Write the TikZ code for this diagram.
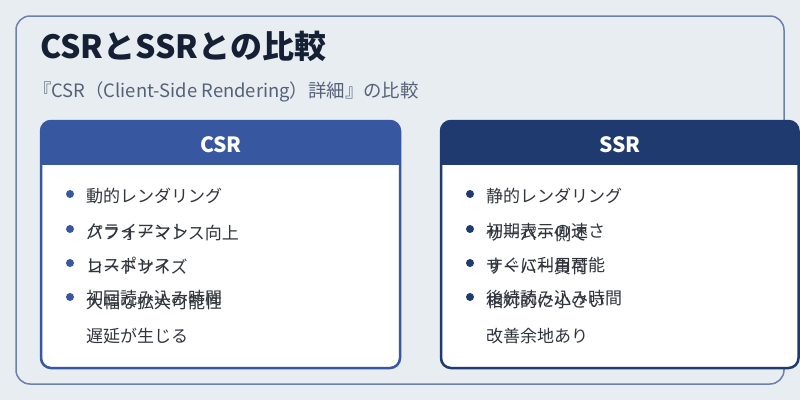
\documentclass[tikz,border=0pt]{standalone}
\usepackage{fontspec}
\setmainfont{Noto Sans CJK JP}
\definecolor{bgc}{RGB}{232,237,242}
\definecolor{framec}{RGB}{108,128,170}
\definecolor{titlec}{RGB}{22,32,52}
\definecolor{subc}{RGB}{85,98,118}
\definecolor{textc}{RGB}{48,52,60}
\definecolor{csrc}{RGB}{55,87,160}
\definecolor{ssrc}{RGB}{31,58,110}
\tikzset{
  itemtext/.style={anchor=base west, inner sep=0pt, text=textc, font=\fontsize{17}{17}\selectfont},
  headtext/.style={anchor=base, inner sep=0pt, text=white, font=\bfseries\fontsize{21}{21}\selectfont},
  bulletdot/.style={circle, inner sep=0pt, minimum size=8pt},
}
\begin{document}
\begin{tikzpicture}[x=1pt,y=-1pt]
\useasboundingbox (0,0) rectangle (800,400);
\fill[bgc] (0,0) rectangle (800,400);
\draw[framec, line width=1.5pt, rounded corners=14pt] (16,16) rectangle (784,384);
\node[anchor=base west, inner sep=0pt, text=titlec, font=\bfseries\fontsize{32}{32}\selectfont] (title) at (40,58) {CSRとSSRとの比較};
\node[anchor=base west, inner sep=0pt, text=subc, font=\fontsize{18.4}{18.4}\selectfont] (subtitle) at (33,97) {『CSR（Client-Side Rendering）詳細』の比較};
% CSR card
\begin{scope}
\clip[rounded corners=10pt] (41,121) rectangle (400,368);
\fill[white] (41,121) rectangle (400,368);
\fill[csrc] (41,121) rectangle (400,165);
\end{scope}
\draw[csrc, line width=2.5pt, rounded corners=10pt] (41,121) rectangle (400,368);
\node[headtext] (csrhead) at (221,152) {CSR};
\node[bulletdot, fill=csrc] (cb1) at (70,194) {};
\node[bulletdot, fill=csrc] (cb2) at (70,229) {};
\node[bulletdot, fill=csrc] (cb3) at (70,263) {};
\node[bulletdot, fill=csrc] (cb4) at (70,297) {};
\node[itemtext] (c1) at (86,202) {動的レンダリング};
\node[itemtext] (c2a) at (86,237) {クライアント};
\node[itemtext] (c2b) at (86,239) {パフォーマンス向上};
\node[itemtext] (c3a) at (86,271) {レスポンス};
\node[itemtext] (c3b) at (86,273) {コードサイズ};
\node[itemtext] (c4a) at (86,304) {初回読み込み時間};
\node[itemtext] (c4b) at (86,308) {大幅な拡大可能性};
\node[itemtext] (c5) at (86,342) {遅延が生じる};
% SSR card
\begin{scope}
\clip[rounded corners=10pt] (441,121) rectangle (798.5,368);
\fill[white] (441,121) rectangle (798.5,368);
\fill[ssrc] (441,121) rectangle (798.5,165);
\end{scope}
\draw[ssrc, line width=2.5pt, rounded corners=10pt] (441,121) rectangle (798.5,368);
\node[headtext] (ssrhead) at (620,152) {SSR};
\node[bulletdot, fill=ssrc] (sb1) at (470,194) {};
\node[bulletdot, fill=ssrc] (sb2) at (470,229) {};
\node[bulletdot, fill=ssrc] (sb3) at (470,263) {};
\node[bulletdot, fill=ssrc] (sb4) at (470,297) {};
\node[itemtext] (s1) at (486,202) {静的レンダリング};
\node[itemtext] (s2a) at (486,237) {初期表示の速さ};
\node[itemtext] (s2b) at (486,240) {サーバー側で};
\node[itemtext] (s3a) at (486,271) {すぐに利用可能};
\node[itemtext] (s3b) at (486,273) {サーバー負荷};
\node[itemtext] (s4a) at (486,304) {後続読み込み時間};
\node[itemtext] (s4b) at (486,307) {相対的に小さい};
\node[itemtext] (s5) at (486,342) {改善余地あり};
\end{tikzpicture}
\end{document}
